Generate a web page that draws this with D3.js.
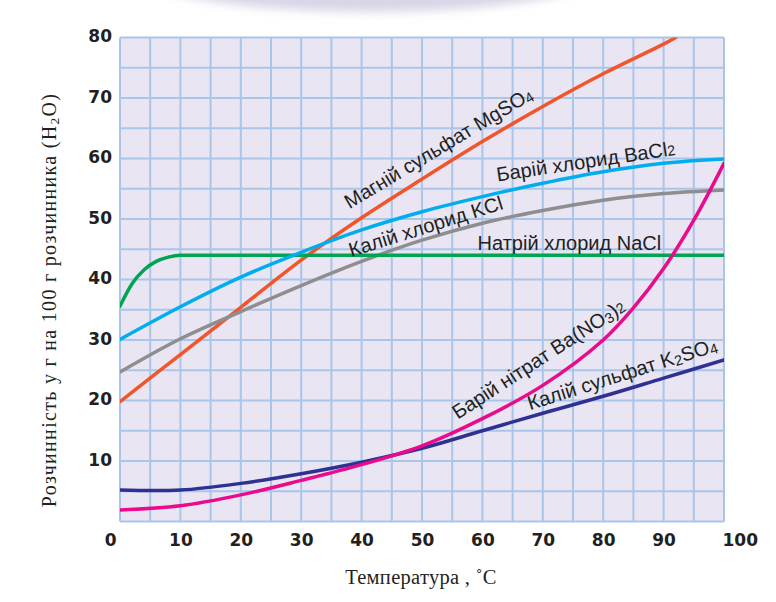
<!DOCTYPE html>
<html>
<head>
<meta charset="utf-8">
<script src="https://cdn.jsdelivr.net/npm/d3@7"></script>
<style>
  body { margin: 0; background: #fff; }
  svg { display: block; }
</style>
</head>
<body>
<svg id="drawing_region"></svg>
<script>
// temperatures, C
const temps = [0, 10, 20, 30, 40, 50, 60, 70, 80, 90, 100];
const tempsNaCl = [0, 2, 4, 6, 8, 10, 100];
const tempsMgSO4 = [0, 10, 20, 30, 40, 50, 60, 70, 80, 90, 92];
const tempsBaNO3 = [0, 10, 20, 30, 40, 50, 60, 70, 80, 85, 90, 95, 100];

// solubility, g per 100 g H2O
const solMgSO4 = [19.8, 27.6, 35.4, 43.2, 50.2, 56.6, 62.8, 68.6, 74.0, 78.9, 80];
const solBaCl2 = [30.1, 35.5, 40.4, 44.5, 48.2, 51.2, 53.7, 55.9, 57.8, 59.2, 59.9];
const solKCl = [24.7, 30.2, 34.7, 39.0, 43.0, 46.5, 49.3, 51.4, 53.1, 54.2, 54.8];
const solNaCl = [35.6, 39.3, 41.6, 43.0, 43.7, 44, 44];
const solBaNO3 = [1.9, 2.6, 4.4, 6.8, 9.4, 12.5, 17, 22.5, 30, 35.3, 41.8, 49.8, 59.2];
const solK2SO4 = [5.2, 5.2, 6.3, 7.9, 9.8, 12.1, 15.0, 17.9, 20.7, 23.7, 26.7];

const xTicks = [0, 10, 20, 30, 40, 50, 60, 70, 80, 90, 100];
const yTicks = [10, 20, 30, 40, 50, 60, 70, 80];

const config = {
    width: 776,
    height: 602,
    margin: {top: 37.5, right: 52, bottom: 80.5, left: 120}
};

const svg = d3.select('#drawing_region')
    .attr('width', config.width)
    .attr('height', config.height);

// faint scan shadow at the top
const defs = svg.append('defs');
defs.append('filter').attr('id', 'blur')
    .attr('x', '-20%').attr('y', '-50%').attr('width', '140%').attr('height', '200%')
    .append('feGaussianBlur').attr('stdDeviation', 5);
svg.append('ellipse')
    .attr('cx', 370).attr('cy', -26)
    .attr('rx', 230).attr('ry', 38)
    .attr('fill', '#d8d6e6')
    .attr('filter', 'url(#blur)');

const inner_width = config.width - config.margin.left - config.margin.right;
const inner_height = config.height - config.margin.top - config.margin.bottom;

const chart = svg.append('g')
    .attr('transform', `translate(${config.margin.left}, ${config.margin.top})`);

const xscale = d3.scaleLinear().domain([0, 100]).range([0, inner_width]);
const yscale = d3.scaleLinear().domain([0, 80]).range([inner_height, 0]);

// background + grid
chart.append('rect')
    .attr('width', inner_width)
    .attr('height', inner_height)
    .attr('fill', '#e9e5f3');

const gridColor = '#a9c5ea';
chart.append('g').selectAll('line')
    .data(d3.range(0, 101, 5))
    .join('line')
    .attr('x1', d => xscale(d)).attr('x2', d => xscale(d))
    .attr('y1', 0).attr('y2', inner_height)
    .attr('stroke', gridColor).attr('stroke-width', 2);
chart.append('g').selectAll('line')
    .data(d3.range(0, 81, 5))
    .join('line')
    .attr('x1', 0).attr('x2', inner_width)
    .attr('y1', d => yscale(d)).attr('y2', d => yscale(d))
    .attr('stroke', gridColor).attr('stroke-width', 2);

// axes (labels only)
const xaxis = d3.axisBottom(xscale).tickValues(xTicks).tickSize(0).tickPadding(12);
const yaxis = d3.axisLeft(yscale).tickValues(yTicks).tickSize(0).tickPadding(8);

const xg = chart.append('g')
    .attr('transform', `translate(0, ${inner_height})`)
    .call(xaxis);
const yg = chart.append('g').call(yaxis);

[xg, yg].forEach(g => {
    g.select('.domain').remove();
    g.selectAll('text')
        .attr('font-family', '"DejaVu Sans", sans-serif')
        .attr('font-weight', 'bold')
        .attr('font-size', 17)
        .attr('fill', '#231f20');
});
yg.selectAll('text').attr('dy', '0.25em');
xg.selectAll('text')
    .filter(d => d === 0)
    .attr('text-anchor', 'end').attr('dx', -4);
xg.selectAll('text')
    .filter(d => d === 100)
    .attr('text-anchor', 'start').attr('dx', -2);

// clip for curves
defs.append('clipPath').attr('id', 'plotclip')
    .append('rect').attr('width', inner_width).attr('height', inner_height);

const smooth = d3.curveCatmullRom.alpha(0.5);
const series = [
    {t: tempsMgSO4, v: solMgSO4, color: '#f2552a', curve: smooth},
    {t: temps, v: solKCl, color: '#8e8e8e', curve: smooth},
    {t: tempsNaCl, v: solNaCl, color: '#00a551', curve: d3.curveMonotoneX},
    {t: temps, v: solBaCl2, color: '#00aeef', curve: smooth},
    {t: temps, v: solK2SO4, color: '#2e3192', curve: smooth},
    {t: tempsBaNO3, v: solBaNO3, color: '#ea0a8c', curve: smooth}
];

chart.append('g')
    .attr('clip-path', 'url(#plotclip)')
    .selectAll('path')
    .data(series)
    .join('path')
    .attr('d', s => d3.line()
        .x(d => xscale(d[0]))
        .y(d => yscale(d[1]))
        .curve(s.curve)(s.t.map((t, i) => [t, s.v[i]])))
    .attr('fill', 'none')
    .attr('stroke', s => s.color)
    .attr('stroke-width', 3.5)
    .attr('stroke-linecap', 'round');

// curve captions: anchor in data units, rotation in degrees
const captions = [
    {parts: [['Магній сульфат MgSO', 0], ['4', 1]], t: 38.0, v: 51.6, rot: -31},
    {parts: [['Барій хлорид BaCl', 0], ['2', 2]], t: 62.5, v: 56.2, rot: -8.5},
    {parts: [['Калій хлорид KCl', 0]], t: 38.3, v: 43.7, rot: -17.5},
    {parts: [['Натрій хлорид NaCl', 0]], t: 59.2, v: 44.8, rot: 0},
    {parts: [['Барій нітрат Ba(NO', 0], ['3', 1], [')', 3], ['2', 2]], t: 55.9, v: 16.8, rot: -33},
    {parts: [['Калій сульфат K', 0], ['2', 1], ['SO', 3], ['4', 1]], t: 67.9, v: 18.4, rot: -17.5}
];

const capG = chart.append('g');
captions.forEach(c => {
    const txt = capG.append('text')
        .attr('transform', `translate(${xscale(c.t)}, ${yscale(c.v)}) rotate(${c.rot})`)
        .attr('font-family', '"Liberation Sans", Arial, sans-serif')
        .attr('font-size', 20)
        .attr('fill', '#231f20');
    let shift = 0;
    c.parts.forEach(([s, kind]) => {
        const ts = txt.append('tspan').text(s);
        if (kind === 1 || kind === 2) {
            const want = kind === 1 ? 2 : 0;
            ts.attr('font-size', 14.5).attr('dy', want - shift);
            shift = want;
        } else if (kind === 3) {
            ts.attr('dy', -shift);
            shift = 0;
        }
    });
});

// axis titles
svg.append('text')
    .attr('x', 421)
    .attr('y', 584)
    .attr('text-anchor', 'middle')
    .attr('font-family', '"Liberation Serif", "DejaVu Serif", serif')
    .attr('font-size', 20.5)
    .attr('letter-spacing', 0.3)
    .attr('fill', '#231f20')
    .text('Температура , ˚C');

const ylab = svg.append('text')
    .attr('transform', 'translate(56, 300) rotate(-90)')
    .attr('text-anchor', 'middle')
    .attr('font-family', '"Liberation Serif", "DejaVu Serif", serif')
    .attr('font-size', 20)
    .attr('letter-spacing', 1.3)
    .attr('fill', '#231f20');
ylab.append('tspan').text('Розчинність у г на 100 г розчинника (H');
ylab.append('tspan').attr('font-size', 13.5).attr('dy', 3).text('2');
ylab.append('tspan').attr('dy', -3).text('O)');
</script>
</body>
</html>
